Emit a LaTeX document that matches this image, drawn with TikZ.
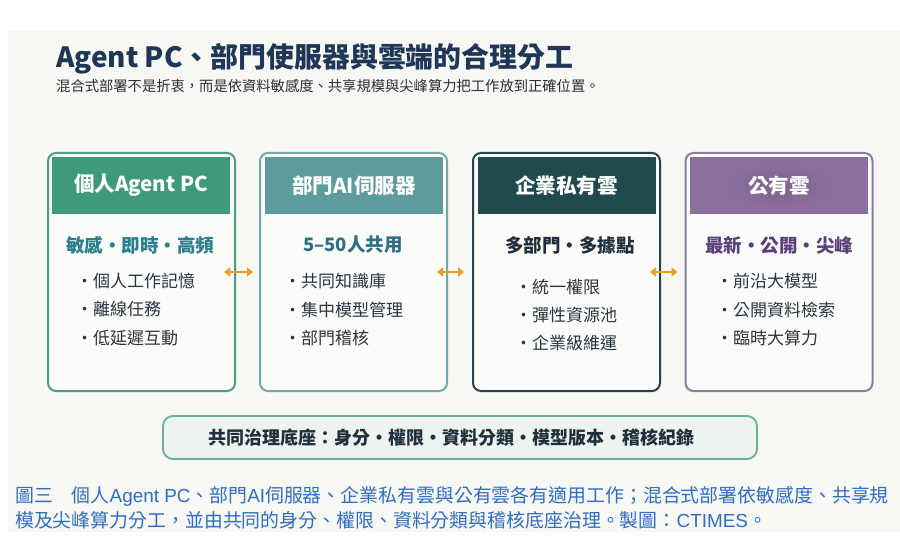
\documentclass[tikz,border=0pt]{standalone}
\usepackage{fontspec}
\setmainfont{Noto Sans CJK TC}
\newfontfamily\arialf{Liberation Sans}
\usetikzlibrary{arrows.meta,calc}
\definecolor{panelc}{HTML}{F7F7F3}
\definecolor{titlec}{HTML}{1E3756}
\definecolor{subc}{HTML}{2A2F35}
\definecolor{bordA}{HTML}{4C9F83}
\definecolor{headA}{HTML}{3F9A7D}
\definecolor{bordB}{HTML}{73A9AC}
\definecolor{headB}{HTML}{5C9C9C}
\definecolor{bordC}{HTML}{23454B}
\definecolor{headC}{HTML}{1F4A4F}
\definecolor{bordD}{HTML}{8C7BA0}
\definecolor{headD}{HTML}{8C6F9E}
\definecolor{hlA}{HTML}{2A7F8E}
\definecolor{hlB}{HTML}{2A6F82}
\definecolor{hlC}{HTML}{1F2F3D}
\definecolor{hlD}{HTML}{5B3E7A}
\definecolor{bulc}{HTML}{2A3542}
\definecolor{arrc}{HTML}{E3A21A}
\definecolor{basefill}{HTML}{EDF3F1}
\definecolor{baseline}{HTML}{6AB296}
\definecolor{capc}{HTML}{2F6EC0}
\newcommand\capLat[1]{{\arialf #1}}
\tikzset{
  card/.style={draw=#1, line width=2pt, rounded corners=8pt, fill=white, fill opacity=0.6, text opacity=1, minimum width=187, minimum height=238, inner sep=0},
  head/.style={fill=#1, minimum width=178, minimum height=57, inner sep=0, text=white, font=\bfseries\fontsize{20.5}{22}\selectfont},
  hl/.style={text=#1, inner sep=0, font=\bfseries\fontsize{18.5}{20}\selectfont},
  bul/.style={anchor=west, text=bulc, inner sep=0, font=\fontsize{17}{19}\selectfont},
  dbl/.style={draw=arrc, line width=2.6pt, {Triangle[width=9pt,length=6pt]}-{Triangle[width=9pt,length=6pt]}},
  capline/.style={anchor=base west, inner sep=0, text=capc, font=\fontsize{18.9}{21}\selectfont}
}
\begin{document}
\begin{tikzpicture}[x=1pt,y=-1pt]
\useasboundingbox (0,0) rectangle (900,540);
\fill[white] (0,0) rectangle (900,540);
\fill[panelc] (8,31) rectangle (900,532);

\node[anchor=base west, inner sep=0, text=titlec, font=\bfseries\fontsize{27.9}{29}\selectfont] (title) at (56,68) {Agent PC、部門使服器與雲端的合理分工};
\node[anchor=base west, inner sep=0, text=subc, font=\fontsize{14.3}{16}\selectfont] (subtitle) at (56,92) {混合式部署不是折衷，而是依資料敏感度、共享規模與尖峰算力把工作放到正確位置。};

% cards
\node[card=bordA] (b1) at (141.5,272) {};
\node[card=bordB] (b2) at (353.5,272) {};
\node[card=bordC] (b3) at (566.5,272) {};
\node[card=bordD] (b4) at (779,272) {};

\node[head=headA] (h1) at (141,185.5) {個人Agent PC};
\node[head=headB] (h2) at (354,185.5) {部門AI伺服器};
\node[head=headC] (h3) at (566.5,185.5) {企業私有雲};
\node[head=headD, text opacity=0] (h4) at (779,185.5) {公有雲};
\shade[inner color=headD!88!black, outer color=headD] (779,186) ellipse (55 and 22);
\node[inner sep=0, text=white, font=\bfseries\fontsize{20.5}{22}\selectfont] (h4t) at (h4.center) {公有雲};

\node[hl=hlA] (t1) at (140,245) {敏感・即時・高頻};
\node[hl=hlB] (t2) at (353,245) {5–50人共用};
\node[hl=hlC] (t3) at (570,245) {多部門・多據點};
\node[hl=hlD] (t4) at (779,245) {最新・公開・尖峰};

\node[bul] (p11) at (76,281) {・個人工作記憶};
\node[bul] (p12) at (76,309.5) {・離線任務};
\node[bul] (p13) at (76,338) {・低延遲互動};
\node[bul] (p21) at (284,281) {・共同知識庫};
\node[bul] (p22) at (284,309.5) {・集中模型管理};
\node[bul] (p23) at (284,338) {・部門稽核};
\node[bul] (p31) at (515,287) {・統一權限};
\node[bul] (p32) at (515,315) {・彈性資源池};
\node[bul] (p33) at (515,343) {・企業級維運};
\node[bul] (p41) at (716,281) {・前沿大模型};
\node[bul] (p42) at (716,309.5) {・公開資料檢索};
\node[bul] (p43) at (716,338) {・臨時大算力};

% arrows
\coordinate (a1l) at ($(b1.east)+(-12,0)$);
\coordinate (a1r) at ($(b2.west)+(-6,0)$);
\coordinate (a2l) at ($(b2.east)+(-11,0)$);
\coordinate (a2r) at ($(b3.west)+(-8,0)$);
\coordinate (a3l) at ($(b3.east)+(-11,0)$);
\coordinate (a3r) at ($(b4.west)+(-7,0)$);
\draw[dbl] (a1l) -- (a1r);
\draw[dbl] (a2l) -- (a2r);
\draw[dbl] (a3l) -- (a3r);

% base
\node[draw=baseline, fill=basefill, line width=1.8pt, rounded corners=10pt, minimum width=594, minimum height=43, inner sep=0] (base) at (460,437.5) {};
\node[inner sep=0, text=hlC, font=\bfseries\fontsize{18}{19}\selectfont] (basetxt) at (451.5,437.5) {共同治理底座：身分・權限・資料分類・模型版本・稽核紀錄};

% caption
\node[capline] (cap1) at (15,502) {圖三　個人\capLat{Agent PC}、部門\capLat{AI}伺服器、企業私有雲與公有雲各有適用工作；混合式部署依敏感度、共享規};
\node[capline] (cap2) at (15,527) {模及尖峰算力分工，並由共同的身分、權限、資料分類與稽核底座治理。製圖：\capLat{CTIMES}。};
\end{tikzpicture}
\end{document}
